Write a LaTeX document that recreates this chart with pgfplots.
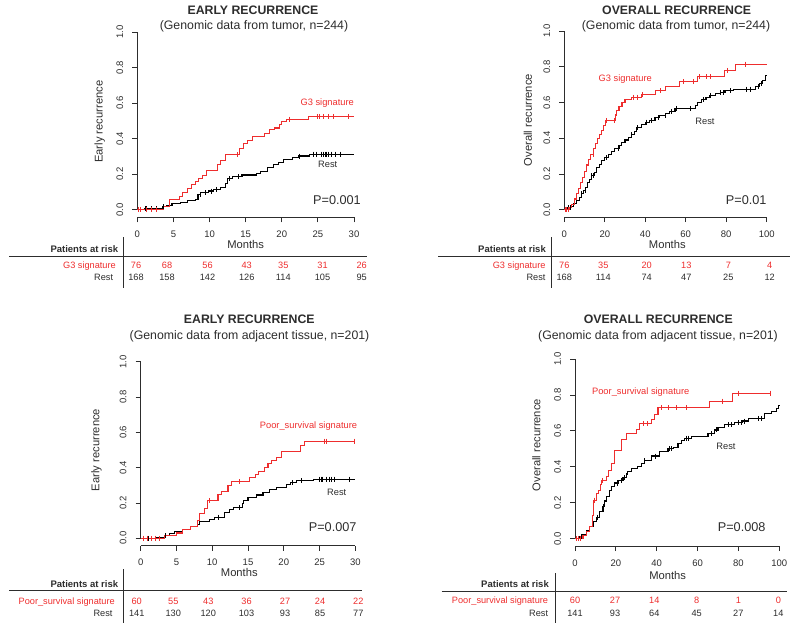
\documentclass[border=0pt]{standalone}
\usepackage{fontspec}
\setmainfont{Liberation Sans}
\usepackage{pgfplots}
\pgfplotsset{compat=1.18}
\definecolor{myred}{RGB}{238,45,45}
\definecolor{txt}{RGB}{45,45,45}
\pgfplotsset{km/.style={
  scale only axis, anchor=south west, clip=false,
  axis lines*=left, axis line style={draw=none},
  tick align=outside, major tick length=5pt,
  tick style={txt, line width=0.8pt},
  ymax=1, ytick={0,0.2,0.4,0.6,0.8,1}, yticklabels={0.0,0.2,0.4,0.6,0.8,1.0},
  ticklabel style={font=\fontsize{9.5}{11}\selectfont, text=txt},
  xticklabel style={anchor=center, yshift=-12pt},
  yticklabel style={anchor=center, xshift=-12.5pt, rotate=90},
}}
\tikzset{
  ttl/.style={font=\bfseries\fontsize{12.3}{14}\selectfont, text=txt, anchor=mid, inner sep=0pt},
  sub/.style={font=\fontsize{12.3}{14}\selectfont, text=txt, anchor=mid, inner sep=0pt},
  lab/.style={font=\fontsize{11.2}{13}\selectfont, text=txt, anchor=mid, inner sep=0pt},
  pv/.style={font=\fontsize{12.7}{15}\selectfont, text=txt, anchor=mid east, inner sep=0pt},
  cl/.style={font=\fontsize{9.3}{11}\selectfont, text=txt, anchor=mid, inner sep=0pt},
  tb/.style={font=\fontsize{9.2}{11}\selectfont, text=txt, anchor=mid, inner sep=0pt},
  tbb/.style={font=\bfseries\fontsize{9.5}{11}\selectfont, text=txt, anchor=mid east, inner sep=0pt},
  rl/.style={line width=0.8pt, draw=txt},
  blk/.style={black, line width=1.1pt, const plot},
  red/.style={myred, line width=1.1pt, const plot},
  bcen/.style={only marks, mark=|, mark size=2.5pt, mark options={black, line width=0.9pt}},
  rcen/.style={only marks, mark=|, mark size=2.5pt, mark options={myred, line width=0.9pt}},
}
\begin{document}
\begin{tikzpicture}
\useasboundingbox (0pt,0pt) rectangle (800pt,-631pt);

% ---------------- Panel 1 ----------------
\begin{axis}[km, at={(137.3pt,-217.3pt)}, width=216.7pt, height=185.3pt,
  xmin=0, xmax=30, ymin=-0.0428, xtick={0,5,10,15,20,25,30}, xticklabels={0,5,10,15,20,25,30}]
\draw[txt, line width=0.8pt] (axis cs:0,-0.0428) -- (axis cs:30,-0.0428);
\draw[txt, line width=0.8pt] (axis cs:0,0) -- (axis cs:0,1);
\addplot[blk] coordinates {(0,0) (1.0,0.004) (2.5,0.008) (3.5,0.017) (4.0,0.025) (4.8,0.033) (6.0,0.040) (7.0,0.050) (8.0,0.058) (8.4,0.085) (8.8,0.095) (9.8,0.105) (10.5,0.115) (11.5,0.125) (12.2,0.145) (12.5,0.175) (13.2,0.185) (14.5,0.195) (16.5,0.205) (17.0,0.215) (18.0,0.235) (18.8,0.255) (19.5,0.265) (20.2,0.28) (21.5,0.293) (22.3,0.302) (23.8,0.313) (30,0.313)};
\addplot[bcen] coordinates {(1.07,0.004) (1.3,0.004) (2.0,0.004) (2.7,0.008) (3.6,0.017) (8.7,0.085) (9.5,0.095) (10.2,0.105) (10.9,0.115) (12.7,0.175) (14.0,0.185) (22.5,0.302) (24.4,0.313) (24.8,0.313) (25.5,0.313) (25.8,0.313) (26.0,0.313) (26.2,0.313) (26.4,0.313) (26.9,0.313) (27.4,0.313) (28.1,0.313)};
\addplot[red] coordinates {(0,0) (3.6,0.018) (4.4,0.055) (5.9,0.075) (6.3,0.095) (7.0,0.12) (7.5,0.14) (8.0,0.16) (8.5,0.175) (9.0,0.19) (9.6,0.222) (11.1,0.255) (11.5,0.275) (12.2,0.31) (14.1,0.345) (14.7,0.37) (15.3,0.39) (16.0,0.41) (17.6,0.43) (18.3,0.45) (19.0,0.46) (19.7,0.48) (20.0,0.495) (20.6,0.51) (23.7,0.525) (30,0.525)};
\addplot[rcen] coordinates {(0.14,0) (0.5,0) (1.3,0) (2.0,0) (2.7,0) (13.9,0.31) (21.1,0.51) (25.0,0.525) (25.2,0.525) (25.8,0.525) (26.4,0.525) (27.1,0.525) (29.2,0.525)};
\end{axis}

% ---------------- Panel 2 ----------------
\begin{axis}[km, at={(564.3pt,-217pt)}, width=202.4pt, height=186pt,
  xmin=0, xmax=100, ymin=-0.0408, xtick={0,20,40,60,80,100}, xticklabels={0,20,40,60,80,100}]
\draw[txt, line width=0.8pt] (axis cs:0,-0.0408) -- (axis cs:100,-0.0408);
\draw[txt, line width=0.8pt] (axis cs:0,0) -- (axis cs:0,1);
\addplot[blk] coordinates {(0,0) (1.5,0.01) (3.0,0.02) (4.5,0.035) (6.0,0.05) (7.5,0.07) (8.6,0.09) (9.5,0.11) (10.5,0.125) (11.5,0.15) (12.5,0.17) (13.5,0.19) (15.0,0.21) (16.0,0.235) (17.5,0.255) (18.5,0.275) (20.0,0.29) (21.8,0.31) (23.5,0.325) (25.0,0.345) (27.0,0.36) (28.3,0.375) (30.0,0.39) (31.5,0.405) (33.3,0.42) (34.5,0.44) (35.8,0.46) (38.0,0.475) (40.0,0.49) (42.0,0.50) (44.8,0.515) (47.0,0.525) (50.0,0.54) (52.0,0.55) (54.7,0.567) (64.6,0.585) (66.0,0.60) (67.9,0.615) (70.0,0.63) (72.0,0.64) (74.5,0.65) (77.0,0.655) (79.4,0.665) (83.5,0.675) (94.5,0.69) (96.5,0.705) (98.0,0.725) (99.5,0.75) (100,0.75)};
\addplot[bcen] coordinates {(0.7,0) (2.0,0.01) (2.8,0.01) (8.6,0.09) (10.2,0.11) (13.5,0.19) (14.3,0.19) (20.9,0.29) (26.7,0.345) (33.3,0.42) (36.2,0.46) (40.7,0.49) (43.2,0.50) (46.5,0.515) (49.8,0.525) (53.0,0.55) (55.2,0.567) (62.4,0.567) (68.7,0.615) (72.0,0.64) (77,0.655) (78.6,0.655) (81.9,0.665) (90.1,0.675) (91.8,0.675) (95.9,0.69) (97.5,0.705)};
\addplot[red] coordinates {(0,0) (2.5,0.01) (3.6,0.03) (5.0,0.06) (6.0,0.09) (7.0,0.12) (8.0,0.15) (9.0,0.18) (10.0,0.215) (11.0,0.25) (12.0,0.28) (13.0,0.31) (14.5,0.34) (15.5,0.37) (16.5,0.40) (17.5,0.42) (18.5,0.445) (19.5,0.47) (20.3,0.50) (25.5,0.53) (26.0,0.555) (27.0,0.58) (28.5,0.60) (30.0,0.615) (33.0,0.63) (38.0,0.645) (45.0,0.665) (50.0,0.69) (57.0,0.715) (66.0,0.745) (79.0,0.78) (84.5,0.815) (100,0.815)};
\addplot[rcen] coordinates {(0.5,0) (1.2,0) (2.0,0) (14.3,0.31) (20.9,0.50) (25.0,0.50) (34,0.63) (36,0.63) (38.6,0.645) (47.3,0.665) (58.8,0.715) (63.8,0.715) (67,0.745) (70,0.745) (72,0.745) (80.7,0.78) (89.3,0.815)};
\end{axis}

% ---------------- Panel 3 ----------------
\begin{axis}[km, at={(140.7pt,-545.7pt)}, width=214.6pt, height=184pt,
  xmin=0, xmax=30, ymin=-0.0419, xtick={0,5,10,15,20,25,30}, xticklabels={0,5,10,15,20,25,30}]
\draw[txt, line width=0.8pt] (axis cs:0,-0.0419) -- (axis cs:30,-0.0419);
\draw[txt, line width=0.8pt] (axis cs:0,0) -- (axis cs:0,1);
\addplot[blk] coordinates {(0,0) (2.2,0.005) (3.3,0.015) (4.0,0.025) (4.7,0.04) (5.9,0.05) (7.0,0.065) (8.0,0.08) (8.2,0.095) (9.6,0.105) (10.3,0.12) (11.7,0.145) (12.4,0.165) (13.0,0.175) (14.2,0.195) (14.4,0.215) (15.0,0.23) (16.2,0.245) (17.1,0.26) (18.0,0.275) (19.0,0.29) (20.4,0.305) (20.9,0.315) (21.8,0.325) (24.1,0.335) (30,0.335)};
\addplot[bcen] coordinates {(0.4,0) (1.1,0) (2.0,0) (3.4,0.015) (10.8,0.12) (13.8,0.175) (21.2,0.315) (22.5,0.325) (25.0,0.335) (25.2,0.335) (25.4,0.335) (25.9,0.335) (26.4,0.335) (26.6,0.335) (27.1,0.335) (29.2,0.335)};
\addplot[red] coordinates {(0,0) (3.3,0.015) (5.0,0.03) (5.9,0.05) (6.9,0.065) (8.0,0.10) (8.2,0.14) (8.9,0.17) (9.3,0.215) (10.8,0.25) (11.3,0.265) (12.2,0.30) (12.7,0.32) (15.2,0.345) (16.0,0.36) (16.5,0.38) (17.3,0.40) (17.8,0.425) (18.3,0.44) (19.0,0.46) (19.7,0.49) (22.4,0.525) (22.9,0.55) (30,0.55)};
\addplot[rcen] coordinates {(0.32,0) (0.88,0) (1.5,0) (2.1,0) (2.65,0) (9.55,0.215) (13.8,0.32) (25.7,0.55) (26.0,0.55) (29.9,0.55)};
\end{axis}

% ---------------- Panel 4 ----------------
\begin{axis}[km, at={(575pt,-546pt)}, width=204.3pt, height=187pt,
  xmin=0, xmax=100, ymin=-0.0406, xtick={0,20,40,60,80,100}, xticklabels={0,20,40,60,80,100}]
\draw[txt, line width=0.8pt] (axis cs:0,-0.0406) -- (axis cs:100,-0.0406);
\draw[txt, line width=0.8pt] (axis cs:0,0) -- (axis cs:0,1);
\addplot[blk] coordinates {(0,0) (2.3,0.01) (3.9,0.025) (5.5,0.045) (7.2,0.07) (8.8,0.095) (10.4,0.12) (12.1,0.15) (13.7,0.18) (14.5,0.21) (15.3,0.235) (17.0,0.27) (18.0,0.29) (19.4,0.31) (21.5,0.325) (23.5,0.34) (25.0,0.36) (25.9,0.375) (27.6,0.39) (30.8,0.40) (32.5,0.42) (34.1,0.435) (37.4,0.46) (41.4,0.485) (45.5,0.50) (48.0,0.51) (50.4,0.53) (52.0,0.545) (53.7,0.56) (56.9,0.57) (65.1,0.585) (68.4,0.605) (70.0,0.62) (73.3,0.635) (78.2,0.645) (82.0,0.655) (84.7,0.67) (92.8,0.695) (96.1,0.71) (98.5,0.725) (99.8,0.74) (100.2,0.74)};
\addplot[bcen] coordinates {(1.5,0) (3.1,0.01) (10.9,0.12) (13.7,0.18) (21.0,0.31) (22.7,0.325) (24.3,0.34) (34.1,0.435) (39.3,0.46) (46.3,0.50) (47.2,0.50) (54.5,0.56) (55.3,0.56) (66.7,0.585) (69.2,0.605) (74.9,0.635) (76.5,0.635) (79.8,0.645) (81.4,0.645) (83.0,0.655) (89.6,0.67) (91.2,0.67)};
\addplot[red] coordinates {(0,0) (3.9,0.02) (5.5,0.04) (7.2,0.07) (8.5,0.13) (9.2,0.215) (10.5,0.25) (11.6,0.27) (12.5,0.30) (12.9,0.325) (15.3,0.345) (16.2,0.38) (17.8,0.42) (19.4,0.49) (22.7,0.55) (25.1,0.585) (30.0,0.61) (31.7,0.64) (37.4,0.665) (39.0,0.69) (40.6,0.73) (65.9,0.765) (77.3,0.81) (95.8,0.81)};
\addplot[rcen] coordinates {(0.5,0) (1.5,0) (2.5,0) (9.5,0.215) (13.6,0.325) (33.3,0.64) (35.7,0.64) (42.3,0.73) (45.5,0.73) (49.6,0.73) (54.5,0.73) (72.4,0.765) (79.8,0.81) (95.5,0.81)};
\end{axis}

\begin{scope}[x=1pt, y=-1pt]
% Panel 1 text
\node[ttl] at (253,12.3) {EARLY RECURRENCE};
\node[sub] at (254,27) {(Genomic data from tumor, n=244)};
\node[lab] at (245.7,245.5) {Months};
\node[lab, rotate=90] at (100,121.7) {Early recurrence};
\node[cl, text=myred, anchor=mid east] at (354,102.7) {G3 signature};
\node[cl] at (327.7,165) {Rest};
\node[pv] at (361,202.3) {P=0.001};
\node[tbb] at (118.3,250) {Patients at risk};
\draw[rl] (9.3,256.7) -- (366.7,256.7);
\draw[rl] (123,237) -- (123,288.3);
\node[tb, text=myred, anchor=mid east] at (116,265.5) {G3 signature};
\node[tb, anchor=mid east] at (113.3,277.5) {Rest};
\foreach \x/\a/\b in {136/76/168, 167/68/158, 207.5/56/142, 246.7/43/126, 283.3/35/114, 322.5/31/105, 361.7/26/95}{
  \node[tb, text=myred] at (\x,265.5) {\a};
  \node[tb] at (\x,277.5) {\b};
}
% Panel 2 text
\node[ttl] at (676.7,12.3) {OVERALL RECURRENCE};
\node[sub] at (676,27) {(Genomic data from tumor, n=244)};
\node[lab] at (667.3,245.5) {Months};
\node[lab, rotate=90] at (529.3,120) {Overall recurrence};
\node[cl, text=myred] at (625.3,79) {G3 signature};
\node[cl] at (705,121.7) {Rest};
\node[pv] at (766.7,201.7) {P=0.01};
\node[tbb] at (546,250) {Patients at risk};
\draw[rl] (438.3,256.7) -- (790,256.7);
\draw[rl] (551.7,237) -- (551.7,288.3);
\node[tb, text=myred, anchor=mid east] at (545.7,265.5) {G3 signature};
\node[tb, anchor=mid east] at (545.7,277.5) {Rest};
\foreach \x/\a/\b in {564.3/76/168, 603.3/35/114, 646.7/20/74, 686.3/13/47, 728.3/7/25, 769.7/4/12}{
  \node[tb, text=myred] at (\x,265.5) {\a};
  \node[tb] at (\x,277.5) {\b};
}
% Panel 3 text
\node[ttl] at (249.3,321) {EARLY RECURRENCE};
\node[sub] at (249.5,336.7) {(Genomic data from adjacent tissue, n=201)};
\node[lab] at (239.3,574) {Months};
\node[lab, rotate=90] at (96.7,450) {Early recurrence};
\node[cl, text=myred, anchor=mid east] at (357.3,426) {Poor\_survival signature};
\node[cl] at (336.7,492.7) {Rest};
\node[pv] at (356.7,529) {P=0.007};
\node[tbb] at (118.3,585) {Patients at risk};
\draw[rl] (9.3,590.7) -- (361.7,590.7);
\draw[rl] (123.3,569.3) -- (123.3,623.3);
\node[tb, text=myred, anchor=mid east] at (115,602.3) {Poor\_survival signature};
\node[tb, anchor=mid east] at (112.7,614.3) {Rest};
\foreach \x/\a/\b in {136.7/60/141, 173.3/55/130, 208.3/43/120, 246.5/36/103, 285/27/93, 320/24/85, 358.3/22/77}{
  \node[tb, text=myred] at (\x,602.3) {\a};
  \node[tb] at (\x,614.3) {\b};
}
% Panel 4 text
\node[ttl] at (658.3,321) {OVERALL RECURRENCE};
\node[sub] at (658,336.7) {(Genomic data from adjacent tissue, n=201)};
\node[lab] at (667.7,577) {Months};
\node[lab, rotate=90] at (537.7,445) {Overall recurrence};
\node[cl, text=myred] at (640.7,391.7) {Poor\_survival signature};
\node[cl] at (726,446.7) {Rest};
\node[pv] at (765.7,529) {P=0.008};
\node[tbb] at (549,585.3) {Patients at risk};
\draw[rl] (441.7,591.7) -- (786.7,591.7);
\draw[rl] (555,573.3) -- (555,623.3);
\node[tb, text=myred, anchor=mid east] at (548.3,601) {Poor\_survival signature};
\node[tb, anchor=mid east] at (548.3,614.3) {Rest};
\foreach \x/\a/\b in {575/60/141, 615/27/93, 654.3/14/64, 696.7/8/45, 738.3/1/27, 778.3/0/14}{
  \node[tb, text=myred] at (\x,601) {\a};
  \node[tb] at (\x,614.3) {\b};
}
\end{scope}
\end{tikzpicture}
\end{document}
